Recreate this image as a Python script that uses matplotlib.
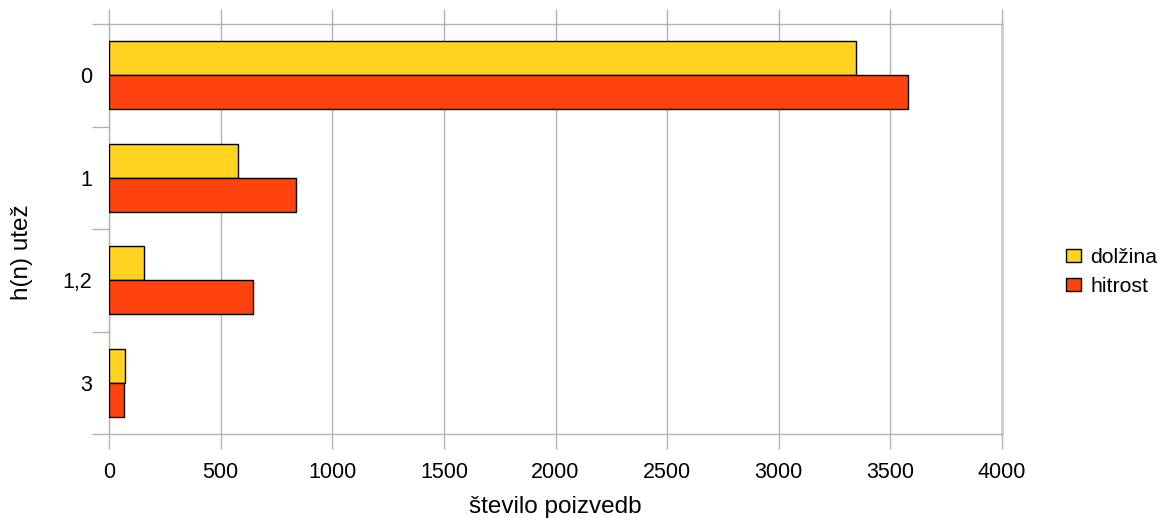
import numpy as np
import matplotlib
matplotlib.use('Agg')
import matplotlib.pyplot as plt
from matplotlib.ticker import FixedLocator, NullFormatter

plt.rcParams['font.family'] = ['Liberation Sans', 'DejaVu Sans']

categories = ['0', '1', '1,2', '3']
dolzina = [3345, 579, 158, 72]
hitrost = [3577, 838, 646, 69]
series_names = ['dolžina', 'hitrost']
colors = ['#ffd320', '#ff420e']
x_ticks = [0, 500, 1000, 1500, 2000, 2500, 3000, 3500, 4000]

fig = plt.figure(figsize=(11.58, 5.18), dpi=100)
ax = fig.add_axes([109 / 1158, (518 - 434) / 518, 893 / 1158, 410 / 518])

y = np.arange(len(categories))
h = 0.33
ax.barh(y - h / 2, dolzina, height=h, color=colors[0], edgecolor='black',
        linewidth=1, label=series_names[0], zorder=3)
ax.barh(y + h / 2, hitrost, height=h, color=colors[1], edgecolor='black',
        linewidth=1, label=series_names[1], zorder=3)

ax.set_xlim(0, 4000)
ax.set_ylim(len(categories) - 0.5, -0.5)

grid_c = '#b3b3b3'
ax.set_xticks(x_ticks)
ax.set_xticklabels([str(t) for t in x_ticks], fontsize=15.5)
ax.tick_params(axis='x', which='major', length=11, color=grid_c, width=1,
               top=True, direction='out', pad=9)
ax.grid(axis='x', color=grid_c, linewidth=1, zorder=0)

ax.set_yticks(y)
ax.set_yticklabels(categories, fontsize=15.5)
ax.tick_params(axis='y', which='major', length=0, pad=12)
ax.yaxis.set_minor_locator(FixedLocator(np.arange(-0.5, len(categories), 1.0)))
ax.yaxis.set_minor_formatter(NullFormatter())
ax.tick_params(axis='y', which='minor', length=12, color=grid_c, width=1)

for s in ['top', 'bottom', 'left']:
    ax.spines[s].set_color(grid_c)
    ax.spines[s].set_linewidth(1)
ax.spines['right'].set_color('#cccccc')
ax.spines['right'].set_linewidth(2)

# axis titles, placed like in the original
ax.set_xlabel('število poizvedb', fontsize=17.5)
ax.xaxis.label.set_va('baseline')
ax.xaxis.set_label_coords(0.5, -0.192)
ax.set_ylabel('h(n) utež', fontsize=17.5)
ax.yaxis.label.set_va('center')
ax.yaxis.set_label_coords(-0.0974, 0.443)

ax.legend(loc='center left', bbox_to_anchor=(1.0627, 0.395), frameon=False,
          borderaxespad=0, fontsize=15.3, handlelength=0.66, handleheight=0.61,
          handletextpad=0.47, labelspacing=0.47)

fig.savefig('out.png', dpi=100)
